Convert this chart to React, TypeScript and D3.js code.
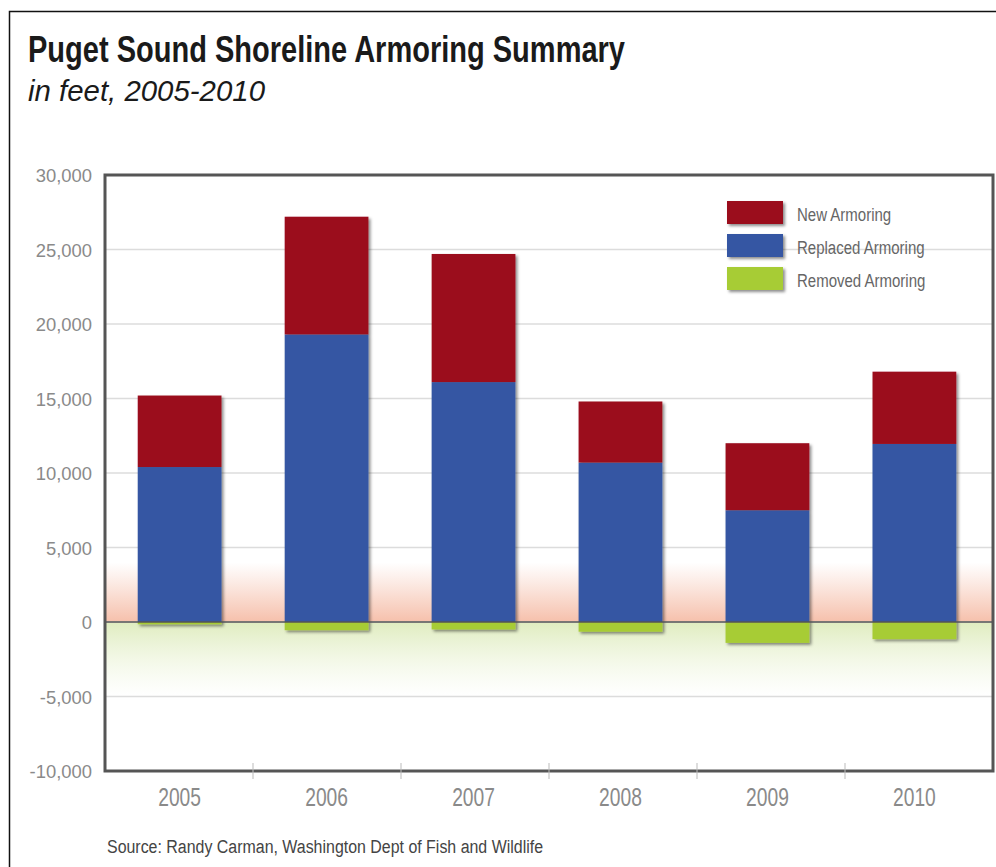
import * as d3 from "d3";
import { useEffect, useRef } from "react";

const years = ["2005", "2006", "2007", "2008", "2009", "2010"];
const replaced = [10400, 19300, 16100, 10700, 7500, 11950];
const newArmoring = [4800, 7900, 8600, 4100, 4500, 4850];
const removed = [-150, -550, -500, -650, -1400, -1150];
const yTicks = [30000, 25000, 20000, 15000, 10000, 5000, 0, -5000, -10000];
const legendLabels = ["New Armoring", "Replaced Armoring", "Removed Armoring"];
const colors = ["#9b111f", "#3457a3", "#a7cc34"];

const font = "'Liberation Sans', Arial, sans-serif";

function ArmoringChart() {
  const ref = useRef<SVGSVGElement>(null);

  useEffect(() => {
    const svg = d3.select(ref.current);
    svg.selectAll("*").remove();

    const plot = { left: 105, right: 993, top: 175, bottom: 771 };

    const x = d3.scaleBand().domain(years).range([plot.left - 3, plot.right + 1]).paddingInner(0.43).paddingOuter(0.25);
    const xTick = d3.scaleBand().domain(years).range([plot.left, plot.right]);
    const y = d3.scaleLinear().domain([-10000, 30000]).range([plot.bottom, plot.top]);

    // narrow text: squeeze horizontally around its anchor point
    const label = (g: any, tx: number, ty: number, sx: number, size: number) =>
      g.append("text").attr("transform", `translate(${tx},${ty}) scale(${sx},1)`)
        .attr("font-family", font).attr("font-size", size);

    const defs = svg.append("defs");
    const pink = defs.append("linearGradient").attr("id", "pink").attr("x1", 0).attr("y1", 0).attr("x2", 0).attr("y2", 1);
    pink.append("stop").attr("offset", "0%").attr("stop-color", "#f6c4b2").attr("stop-opacity", 0);
    pink.append("stop").attr("offset", "100%").attr("stop-color", "#f6c0ab").attr("stop-opacity", 1);
    const green = defs.append("linearGradient").attr("id", "green").attr("x1", 0).attr("y1", 0).attr("x2", 0).attr("y2", 1);
    green.append("stop").attr("offset", "0%").attr("stop-color", "#dfecbf").attr("stop-opacity", 1);
    green.append("stop").attr("offset", "100%").attr("stop-color", "#eef5dc").attr("stop-opacity", 0);
    const shadow = defs.append("filter").attr("id", "shadow").attr("x", "-10%").attr("y", "-10%").attr("width", "130%").attr("height", "130%");
    shadow.append("feDropShadow").attr("dx", 2).attr("dy", 2).attr("stdDeviation", 1.5).attr("flood-color", "#000").attr("flood-opacity", 0.45);

    // outer frame
    svg.append("path").attr("d", "M9.5,880 V11.5 H1000").attr("fill", "none").attr("stroke", "#111").attr("stroke-width", 1.5);

    svg.append("text").attr("x", 28).attr("y", 62).attr("font-family", font).attr("font-weight", "bold")
      .attr("font-size", 36).attr("fill", "#1a1a1a").attr("textLength", 597).attr("lengthAdjust", "spacingAndGlyphs")
      .text("Puget Sound Shoreline Armoring Summary");
    svg.append("text").attr("x", 28).attr("y", 101).attr("font-family", font).attr("font-style", "italic")
      .attr("font-size", 30).attr("fill", "#1a1a1a").attr("textLength", 237).attr("lengthAdjust", "spacingAndGlyphs")
      .text("in feet, 2005-2010");

    // background bands
    svg.append("rect").attr("x", plot.left).attr("y", y(4000)).attr("width", plot.right - plot.left).attr("height", y(0) - y(4000)).attr("fill", "url(#pink)");
    svg.append("rect").attr("x", plot.left).attr("y", y(0)).attr("width", plot.right - plot.left).attr("height", y(-5000) - y(0)).attr("fill", "url(#green)");

    // gridlines
    svg.append("g").selectAll("line").data(yTicks.filter((d) => d !== 30000 && d !== -10000)).join("line")
      .attr("x1", plot.left).attr("x2", plot.right).attr("y1", (d) => y(d)).attr("y2", (d) => y(d))
      .attr("stroke", "#dcdcdc").attr("stroke-width", 1.5);

    // y labels
    const yl = svg.append("g");
    yTicks.forEach((d) => {
      label(yl, 92, y(d) + 7, 0.97, 19).attr("text-anchor", "end").attr("fill", "#8a8a8a")
        .text(d3.format(",")(d).replace("−", "-"));
    });

    const bars = svg.append("g").attr("filter", "url(#shadow)");
    const bw = x.bandwidth();
    years.forEach((yr, i) => {
      const bx = x(yr)! - 1;
      bars.append("rect").attr("x", bx).attr("y", y(0)).attr("width", bw)
        .attr("height", y(removed[i]) - y(0)).attr("fill", colors[2]);
      bars.append("rect").attr("x", bx).attr("y", y(replaced[i])).attr("width", bw)
        .attr("height", y(0) - y(replaced[i])).attr("fill", colors[1]);
      bars.append("rect").attr("x", bx).attr("y", y(replaced[i] + newArmoring[i])).attr("width", bw)
        .attr("height", y(replaced[i]) - y(replaced[i] + newArmoring[i])).attr("fill", colors[0]);
    });

    // zero line
    svg.append("line").attr("x1", plot.left).attr("x2", plot.right).attr("y1", y(0)).attr("y2", y(0))
      .attr("stroke", "#555").attr("stroke-width", 1.5);

    // plot frame
    svg.append("rect").attr("x", plot.left).attr("y", plot.top).attr("width", plot.right - plot.left)
      .attr("height", plot.bottom - plot.top).attr("fill", "none").attr("stroke", "#555").attr("stroke-width", 3);

    // x ticks between categories
    svg.append("g").selectAll("line").data(years.slice(1)).join("line")
      .attr("x1", (d) => xTick(d)!).attr("x2", (d) => xTick(d)!)
      .attr("y1", plot.bottom - 8).attr("y2", plot.bottom + 8).attr("stroke", "#bbb").attr("stroke-width", 1);

    const xl = svg.append("g");
    years.forEach((d) => {
      label(xl, x(d)! - 1 + bw / 2, 806, 0.74, 26).attr("text-anchor", "middle").attr("fill", "#8a8a8a").text(d);
    });

    // legend
    const lg = svg.append("g").attr("transform", "translate(727,201)");
    legendLabels.forEach((l, i) => {
      lg.append("rect").attr("x", 0).attr("y", i * 33).attr("width", 56).attr("height", 23).attr("fill", colors[i]).attr("filter", "url(#shadow)");
      label(lg, 70, i * 33 + 20, 0.79, 19).attr("fill", "#666").text(l);
    });

    svg.append("text").attr("x", 107).attr("y", 853).attr("font-family", font).attr("font-size", 18)
      .attr("fill", "#444").attr("textLength", 436).attr("lengthAdjust", "spacingAndGlyphs")
      .text("Source: Randy Carman, Washington Dept of Fish and Wildlife");
  }, []);

  return <svg ref={ref} width={996} height={867} style={{ display: "block" }} />;
}

export default function App() {
  return (
    <div style={{ position: "fixed", top: 0, left: 0, width: 996, height: 867, overflow: "hidden", background: "#fff" }}>
      <ArmoringChart />
    </div>
  );
}
